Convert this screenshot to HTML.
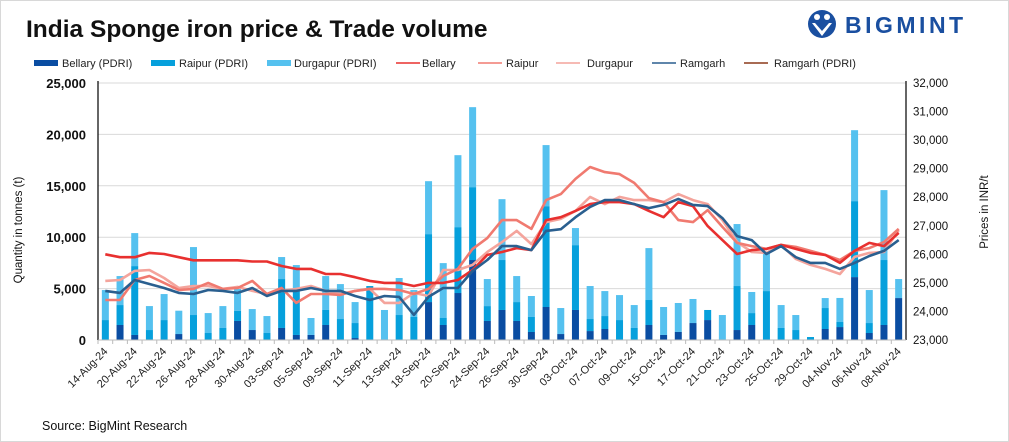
<!DOCTYPE html>
<html><head><meta charset="utf-8"><style>
body{margin:0;background:#fff;font-family:"Liberation Sans",sans-serif}
#wrap{position:relative;width:1007px;height:440px;border:1px solid #d8d8d8;overflow:hidden}
</style></head><body>
<div id="wrap">
<svg id="svg" width="1009" height="442" style="position:absolute;left:-1px;top:-1px"></svg>
</div>
<script>
const categories=["14-Aug-24","","20-Aug-24","","22-Aug-24","","26-Aug-24","","28-Aug-24","","30-Aug-24","","03-Sep-24","","05-Sep-24","","09-Sep-24","","11-Sep-24","","13-Sep-24","","18-Sep-24","","20-Sep-24","","24-Sep-24","","26-Sep-24","","30-Sep-24","","03-Oct-24","","07-Oct-24","","09-Oct-24","","15-Oct-24","","17-Oct-24","","21-Oct-24","","23-Oct-24","","25-Oct-24","","29-Oct-24","","04-Nov-24","","06-Nov-24","","08-Nov-24"];
const bellaryPdri=[0,1460,490,0,0,580,0,0,0,1850,970,0,1170,490,490,1460,0,190,0,0,0,0,3690,1460,4570,7780,1850,2920,1850,780,3210,580,2920,870,1070,0,0,1460,490,780,1650,1940,0,970,1460,0,0,0,0,1070,1260,6120,680,1460,4080];
const raipurPdri=[1940,1940,6700,970,1940,0,2430,680,1170,1000,0,680,4760,4370,0,1460,2040,1460,5250,0,2430,2240,6610,680,6410,7090,1450,4860,1840,1460,9810,0,6310,1170,1260,1940,1170,2430,0,0,0,980,0,4280,1160,4760,1170,970,290,2040,490,7390,970,6320,0];
const durgapurPdri=[2920,2820,3210,2330,2530,2270,6610,1940,2130,2110,2040,1650,2140,2430,1650,3300,3400,2040,0,2920,3600,2620,5150,5340,7000,7780,2630,5920,2530,2040,5940,2530,1660,3210,2430,2430,2230,5050,2720,2820,2340,0,2430,6030,2050,3660,2230,1460,0,970,2340,6900,3210,6800,1850];
const bellary=[26000,25900,25900,26050,26010,25900,25790,25790,25790,25790,25750,25750,25590,25490,25490,25310,25310,25200,25070,25000,25000,24890,25000,25000,25100,25450,25980,26080,26220,26150,27200,27300,27520,27760,27830,27830,27760,27520,27300,27830,27690,26990,26500,26010,26150,26190,26330,26190,26050,25980,25700,26120,26400,26290,26750];
const raipur=[24400,24400,25100,25240,25000,24750,24790,25000,24790,24820,25070,24610,24820,24300,24610,24610,24580,24720,24790,24790,24750,24610,24790,25240,25490,26190,26570,27200,27200,26890,27900,28110,28640,29060,28880,28810,28500,27970,27830,27200,27130,27550,26960,26400,26290,26190,26330,26260,26120,25980,25800,26120,26220,26430,26890];
const durgapur=[25070,25100,25420,25450,25170,24820,24890,24890,24790,24860,24720,24610,24720,24790,24890,24720,24610,24720,24790,24300,24300,24650,24540,25450,25450,25630,26080,26430,26820,26360,27130,27240,27520,28010,27760,28010,27900,27900,27830,28110,27900,27760,27200,26430,26080,26050,26330,25840,25630,25490,25310,25910,26050,26080,26850];
const ramgarh=[24720,24650,25100,24960,24820,24650,24610,24750,24720,24650,24820,24540,24720,24720,24820,24720,24720,24540,24400,24540,24510,23880,24510,24820,24820,25420,25800,26290,26290,26150,26820,26880,27300,27660,27900,27900,27760,27620,27730,27940,27730,27690,27270,26640,26500,26010,26290,25900,25700,25700,25490,25700,25940,26120,26500];
const leftTicks=[0,5000,10000,15000,20000,25000];
const rightTicks=[23000,24000,25000,26000,27000,28000,29000,30000,31000,32000];

const NS="http://www.w3.org/2000/svg",svg=document.getElementById('svg');
const X0=98,X1=906,Y0=340,Y1=83;
const bw=(X1-X0)/categories.length;
const xc=i=>X0+bw*(i+0.5);
const yL=v=>Y0-(v/25000)*(Y0-Y1);
const yR=v=>Y0-((v-23000)/9000)*(Y0-Y1);
function el(t,a,txt){const e=document.createElementNS(NS,t);for(const k in a)e.setAttribute(k,a[k]);if(txt!=null)e.textContent=txt;svg.appendChild(e);return e;}
let t=el('text',{x:26,y:37,'font-size':24.5,'font-weight':'bold',fill:'#111'},'India Sponge iron price & Trade volume');


// logo
let g=el('circle',{cx:822,cy:24,r:14,fill:'#1a4fa0'});


el('circle',{cx:817,cy:17,r:3,fill:'#fff'});el('circle',{cx:827,cy:17,r:3,fill:'#fff'});
el('path',{d:'M812 23 L822 36 L832 23 L829 23 L822 31 L815 23Z',fill:'#fff'});
t=el('text',{x:845,y:33,'font-size':23,'font-weight':'bold',fill:'#1a4fa0','letter-spacing':'3.5'},'BIGMINT');


// legend: [label, color, isBar, swatchX, textX]
const leg=[['Bellary (PDRI)','#0a4da2',1,34,62],['Raipur (PDRI)','#06a0dc',1,151,179],['Durgapur (PDRI)','#55c1ef',1,267,294],['Bellary','#e8302f',0,396,422],['Raipur','#f07a70',0,478,506],['Durgapur','#f4a49c',0,556,587],['Ramgarh','#2a5f8f',0,652,680],['Ramgarh (PDRI)','#8b3a1a',0,744,774]];
leg.forEach(l=>{const x=l[3];
 if(l[2]){let r=el('rect',{x:x,y:60,width:24,height:6,fill:l[1]});}
 else{let r=el('line',{x1:x,x2:x+24,y1:63,y2:63,stroke:l[1],'stroke-width':1.5});}
 let tt=el('text',{x:l[4],y:67,'font-size':11,fill:'#222'},l[0]);
 
 
});
// grid & ticks
leftTicks.forEach(v=>{let y=yL(v);
 let gl=el('line',{x1:X0,x2:X1,y1:y,y2:y,stroke:'#d9d9d9','stroke-width':1});
 let tt=el('text',{x:X0-12,y:y+5,'font-size':13,'font-weight':'bold','text-anchor':'end',fill:'#111'},v.toLocaleString('en-US'));
 });
rightTicks.forEach(v=>{let y=yR(v);
 let tt=el('text',{x:X1+7,y:y+4,'font-size':11.5,fill:'#111'},v.toLocaleString('en-US'));
 });
// bars
categories.forEach((c,i)=>{const w=7,x=xc(i)-w/2;let base=0;
 [[bellaryPdri,'#0a4da2'],[raipurPdri,'#06a0dc'],[durgapurPdri,'#55c1ef']].forEach(s=>{const v=s[0][i];if(v>0){
  let r=el('rect',{x:x,y:yL(base+v),width:w,height:yL(base)-yL(base+v),fill:s[1]});
  }
  base+=v;});
 let tk=el('line',{x1:X0+bw*i,x2:X0+bw*i,y1:Y0,y2:Y0+4,stroke:'#bbb'});
 if(c){let tt=el('text',{x:xc(i)+3,y:Y0+12,'font-size':11,'text-anchor':'end',fill:'#222',transform:`rotate(-45 ${xc(i)+3} ${Y0+12})`},c);
  }
});
// lines
[[durgapur,'#f4a49c'],[raipur,'#f07a70'],[bellary,'#e8302f'],[ramgarh,'#2a5f8f']].forEach((s,k)=>{
 const d=s[0].map((v,i)=>(i?'L':'M')+xc(i).toFixed(1)+' '+yR(v).toFixed(1)).join(' ');
 let p=el('path',{d:d,fill:'none',stroke:s[1],'stroke-width':2.6,'stroke-linejoin':'round'});
 
 
});
// axes
let a=el('line',{x1:X0,x2:X0,y1:Y1-2,y2:Y0,stroke:'#000','stroke-width':1.2});
a=el('line',{x1:X1,x2:X1,y1:Y1-2,y2:Y0,stroke:'#000','stroke-width':1.2});
a=el('line',{x1:X0,x2:X1,y1:Y0,y2:Y0,stroke:'#bbb'});
t=el('text',{x:0,y:0,'font-size':11.5,fill:'#111','text-anchor':'middle',transform:'translate(22 230) rotate(-90)'},'Quantity in tonnes (t)');

t=el('text',{x:0,y:0,'font-size':11.5,fill:'#111','text-anchor':'middle',transform:'translate(988 212) rotate(-90)'},'Prices in INR/t');

t=el('text',{x:42,y:430,'font-size':12.5,fill:'#111'},'Source: BigMint Research');

</script>
</body></html>
